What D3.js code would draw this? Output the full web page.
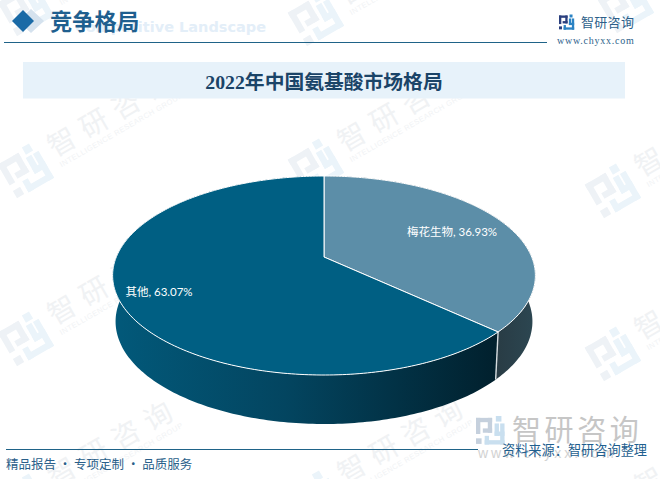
<!DOCTYPE html>
<html>
<head>
<meta charset="utf-8">
<script src="https://cdn.jsdelivr.net/npm/d3@7"></script>
<style>
  html, body { margin: 0; padding: 0; background: #fff; }
  svg { display: block; }
</style>
</head>
<body>
<svg id="chart" width="660" height="479"></svg>
<script>
'use strict';

// Chart data
var chartTitle = '2022年中国氨基酸市场格局',
    categories = ['梅花生物', '其他'],
    shares = [36.93, 63.07],
    topColors = ['#5c8ea8', '#005f83'];

// Watermark logo centres
var markX = [25, 315, 625, 25, 315, 612, 25, 612, 25, 315, 612],
    markY = [8, 18, 5, 170, 165, 190, 338, 353, 500, 497, 510];

var WIDTH = 660,
    HEIGHT = 479,
    CJK = '"Noto Sans CJK SC", "Noto Sans", sans-serif';

// Pie projection: the top face is a tilted disc seen in perspective
var Cx = 324,
    TOP = 176,      // far edge of the disc
    HUB = 81,       // far edge to the centre of the disc
    BEND = 0.186,
    R = 207.7,
    DEPTH_X = 0.986,
    DEPTH_Y = 1.03,
    DEPTH = 46;

var svg = d3.select('#chart');

function topPoint(a) {
    var u = Math.sin(a),
        v = -Math.cos(a),
        w = 1 - BEND * v;
    return [Cx + R * u / w, TOP + HUB * (v + 1) / w];
}

function bottomPoint(a) {
    var p = topPoint(a);
    return [Cx + (p[0] - Cx) * DEPTH_X, 275 + DEPTH + (p[1] - 275) * DEPTH_Y];
}

function sweep(a0, a1, fn) {
    var n = Math.max(2, Math.ceil((a1 - a0) * 60));
    return d3.range(n + 1).map(function (i) {
        return fn(a0 + (a1 - a0) * i / n);
    });
}

var line = d3.line();

// Logo made of blocks, 46 x 46 units
function drawLogo(g, c1, c2) {
    var blocks = [
        [0, 3, 26, 7, c1], [0, 3, 7, 26, c1], [19, 3, 7, 24, c1],
        [11, 20, 15, 7, c1], [0, 36, 9, 9, c1],
        [32, 0, 9, 9, c2], [39, 12, 7, 34, c2], [14, 39, 32, 7, c2],
        [14, 32, 7, 14, c2], [30, 12, 7, 20, c2], [30, 25, 16, 7, c2]
    ];
    g.selectAll('rect.block')
        .data(blocks)
        .enter().append('rect')
        .attr('class', 'block')
        .attr('x', function (d) { return d[0]; })
        .attr('y', function (d) { return d[1]; })
        .attr('width', function (d) { return d[2]; })
        .attr('height', function (d) { return d[3]; })
        .attr('fill', function (d) { return d[4]; });
}

function drawWatermark(x, y) {
    var g = svg.append('g')
        .attr('transform', 'translate(' + x + ',' + y + ') rotate(-30)');
    drawLogo(g.append('g').attr('transform', 'translate(-21,-21) scale(0.92)'), '#eef2f6', '#ebf4fa');
    g.append('text')
        .attr('x', 32)
        .attr('y', 4)
        .style('font-family', CJK)
        .attr('font-size', 28)
        .attr('letter-spacing', 9)
        .attr('fill', '#f0f2f4')
        .text('智研咨询');
    g.append('text')
        .attr('x', 33)
        .attr('y', 16)
        .style('font-family', '"Liberation Sans", sans-serif')
        .attr('font-size', 7.5)
        .attr('letter-spacing', 0.5)
        .attr('fill', '#f1f3f5')
        .text('INTELLIGENCE RESEARCH GROUP');
}

function drawBackground() {
    svg.append('rect')
        .attr('width', WIDTH)
        .attr('height', HEIGHT)
        .attr('fill', '#fff');

    markX.forEach(function (x, i) {
        drawWatermark(x, markY[i]);
    });
}

function drawHeader() {
    svg.append('text')
        .attr('x', 266)
        .attr('y', 32)
        .attr('text-anchor', 'end')
        .style('font-family', '"DejaVu Sans", sans-serif')
        .attr('font-size', 14.5)
        .attr('font-weight', 'bold')
        .attr('fill', '#e3eef8')
        .text('Competitive Landscape');

    svg.append('path')
        .attr('d', 'M31 9 L44 21 L31 33 L18 21 Z')
        .attr('fill', '#d5e2ee');
    svg.append('path')
        .attr('d', 'M23 10 L34 21 L23 32 L12 21 Z')
        .attr('fill', '#1a6aa6');

    svg.append('text')
        .attr('x', 50)
        .attr('y', 30)
        .style('font-family', CJK)
        .attr('font-size', 22.3)
        .attr('font-weight', 'bold')
        .attr('fill', '#1f5f8f')
        .text('竞争格局');

    svg.append('line')
        .attr('x1', 4).attr('x2', 547)
        .attr('y1', 42.5).attr('y2', 42.5)
        .attr('stroke', '#1f6388')
        .attr('stroke-width', 1);

    drawLogo(svg.append('g').attr('transform', 'translate(559,14.5) scale(0.33)'), '#2a3f7e', '#2b83c4');

    svg.append('text')
        .attr('x', 581)
        .attr('y', 27)
        .style('font-family', CJK)
        .attr('font-size', 13)
        .attr('letter-spacing', 0.3)
        .attr('fill', '#2d5f8a')
        .text('智研咨询');

    svg.append('text')
        .attr('x', 557)
        .attr('y', 44)
        .style('font-family', '"Liberation Serif", serif')
        .attr('font-size', 10)
        .attr('letter-spacing', 0.75)
        .attr('fill', '#2d5f8a')
        .text('www.chyxx.com');

    svg.append('rect')
        .attr('x', 23).attr('y', 62)
        .attr('width', 602).attr('height', 36.5)
        .attr('fill', '#e7f2fa');

    svg.append('text')
        .attr('x', 324)
        .attr('y', 89)
        .attr('text-anchor', 'middle')
        .style('font-family', '"Liberation Serif", "Noto Sans CJK SC", serif')
        .attr('font-size', 19.8)
        .attr('font-weight', 'bold')
        .attr('fill', '#1a4468')
        .text(chartTitle);
}

function drawPie() {
    var defs = svg.append('defs');

    var g0 = defs.append('linearGradient')
        .attr('id', 'wall-0')
        .attr('gradientUnits', 'userSpaceOnUse')
        .attr('x1', 497).attr('x2', 536).attr('y1', 0).attr('y2', 0);
    g0.append('stop').attr('offset', 0).attr('stop-color', '#293c45');
    g0.append('stop').attr('offset', 1).attr('stop-color', '#2c4752');

    var g1 = defs.append('linearGradient')
        .attr('id', 'wall-1')
        .attr('gradientUnits', 'userSpaceOnUse')
        .attr('x1', 113).attr('x2', 497).attr('y1', 0).attr('y2', 0);
    g1.append('stop').attr('offset', 0).attr('stop-color', '#02597a');
    g1.append('stop').attr('offset', 0.45).attr('stop-color', '#034560');
    g1.append('stop').attr('offset', 1).attr('stop-color', '#01202d');

    var arcs = d3.pie().sort(null).startAngle(0).endAngle(2 * Math.PI)(shares);

    // walls first, the top faces paint over whatever is hidden
    svg.selectAll('path.wall')
        .data(arcs)
        .enter().append('path')
        .attr('class', 'wall')
        .attr('fill', function (d) { return 'url(#wall-' + d.index + ')'; })
        .attr('d', function (d) {
            var rim = sweep(d.startAngle, d.endAngle, topPoint),
                low = sweep(d.startAngle, d.endAngle, bottomPoint).reverse();
            return line(rim.concat(low)) + 'Z';
        });

    // seam between the two walls
    var seam = arcs[0].endAngle;
    svg.append('path')
        .attr('d', line([topPoint(seam), bottomPoint(seam)]))
        .attr('stroke', '#d5dcdf')
        .attr('stroke-width', 1.4)
        .attr('fill', 'none');

    var hub = [Cx, TOP + HUB];

    svg.selectAll('path.slice')
        .data(arcs)
        .enter().append('path')
        .attr('class', 'slice')
        .attr('fill', function (d) { return topColors[d.index]; })
        .attr('stroke', '#fff')
        .attr('stroke-width', 1)
        .attr('stroke-linejoin', 'round')
        .attr('d', function (d) {
            return line([hub].concat(sweep(d.startAngle, d.endAngle, topPoint))) + 'Z';
        });

    var labelX = [452, 159],
        labelY = [236, 296];
    svg.selectAll('text.pie-label')
        .data(arcs)
        .enter().append('text')
        .attr('class', 'pie-label')
        .attr('x', function (d) { return labelX[d.index]; })
        .attr('y', function (d) { return labelY[d.index]; })
        .attr('text-anchor', 'middle')
        .style('font-family', 'Lato, "Noto Sans CJK SC", sans-serif')
        .attr('font-size', 11.5)
        .attr('fill', '#fff')
        .text(function (d) { return categories[d.index] + ', ' + d3.format('.2f')(d.value) + '%'; });
}

function drawFooter() {
    // big logo at bottom right
    drawLogo(svg.append('g').attr('transform', 'translate(476,416) scale(0.62)'), '#c5d0dd', '#c9dfef');

    svg.append('text')
        .attr('x', 512)
        .attr('y', 441)
        .style('font-family', CJK)
        .attr('font-size', 29)
        .attr('letter-spacing', 3.6)
        .attr('fill', '#c6c6c6')
        .text('智研咨询');

    svg.append('text')
        .attr('x', 478)
        .attr('y', 458)
        .style('font-family', '"Liberation Sans", sans-serif')
        .attr('font-size', 14)
        .attr('letter-spacing', 3)
        .attr('fill', '#d2d2d2')
        .text('www.chyxx.com');

    svg.append('line')
        .attr('x1', 6).attr('x2', 478)
        .attr('y1', 449.5).attr('y2', 449.5)
        .attr('stroke', '#1f6388')
        .attr('stroke-width', 1);

    svg.append('text')
        .attr('x', 6)
        .attr('y', 469)
        .style('font-family', CJK)
        .attr('font-size', 12.5)
        .attr('fill', '#2a5f8a')
        .text('精品报告 · 专项定制 · 品质服务');

    svg.append('text')
        .attr('x', 502)
        .attr('y', 455)
        .style('font-family', CJK)
        .attr('font-size', 13.2)
        .attr('fill', '#1f5f8f')
        .text('资料来源：智研咨询整理');
}

drawBackground();
drawHeader();
drawPie();
drawFooter();
</script>
</body>
</html>
